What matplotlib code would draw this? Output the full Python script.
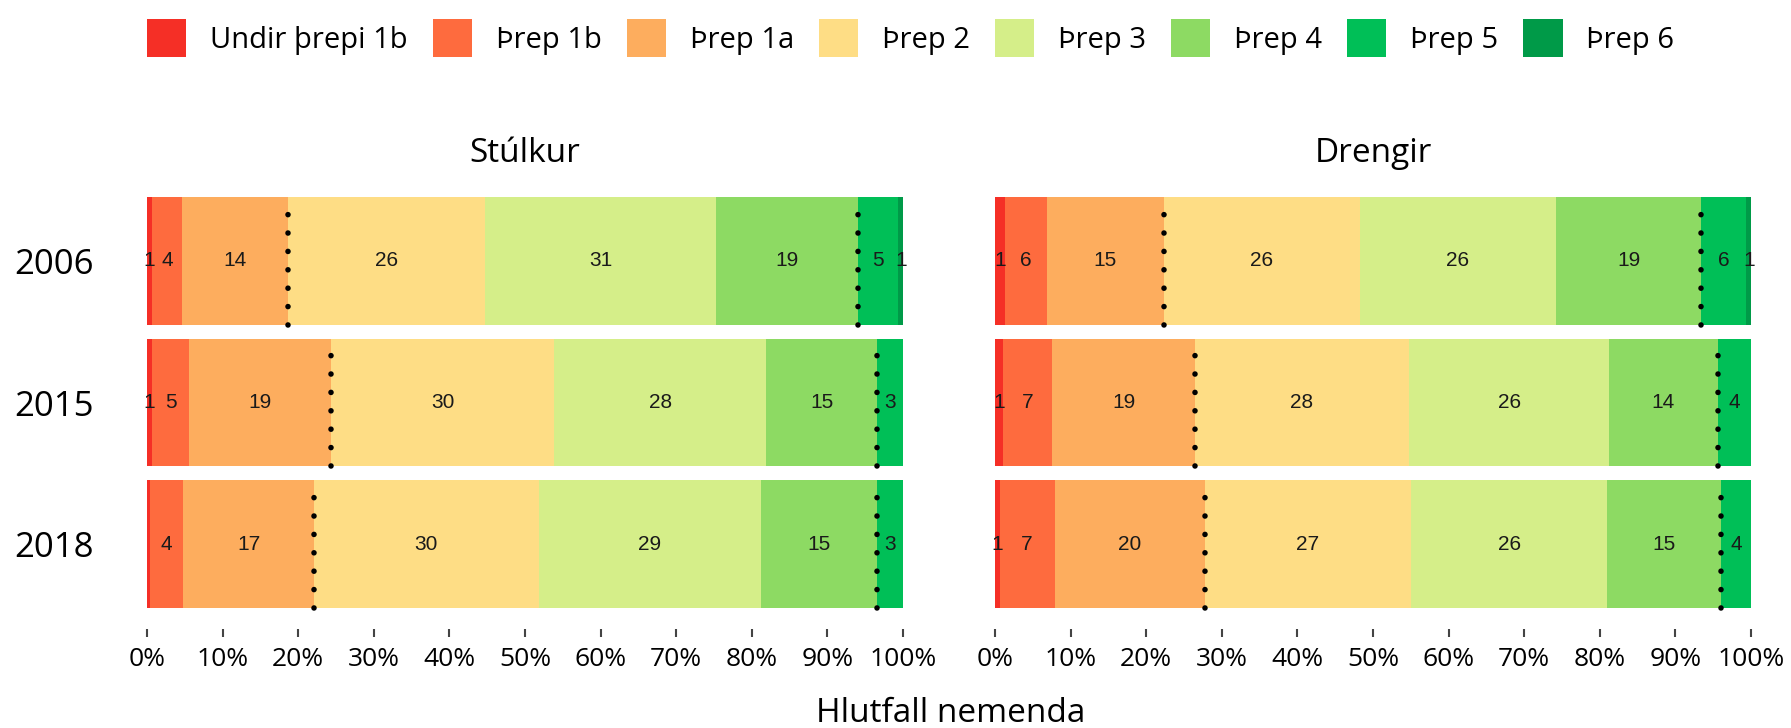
import numpy as np
import matplotlib
matplotlib.use('Agg')
import matplotlib.pyplot as plt
from matplotlib.patches import Patch

# levels and colours
levels = ['Undir þrepi 1b', 'Þrep 1b', 'Þrep 1a', 'Þrep 2', 'Þrep 3', 'Þrep 4', 'Þrep 5', 'Þrep 6']
colors = ['#F52F26', '#FE6B3E', '#FDAD5E', '#FEDD85', '#D5EE89', '#8DDA63', '#00BF57', '#009A48']
years = ['2006', '2015', '2018']
panels = ['Stúlkur', 'Drengir']

# percent of students per level, one row per year
girls = np.array([
    [0.7, 3.9, 14.1, 26.0, 30.6, 18.7, 5.4, 0.6],
    [0.7, 4.9, 18.7, 29.6, 28.0, 14.7, 3.4, 0.0],
    [0.4, 4.4, 17.3, 29.7, 29.4, 15.4, 3.4, 0.0],
])
boys = np.array([
    [1.3, 5.6, 15.4, 26.0, 25.9, 19.2, 6.0, 0.6],
    [1.0, 6.6, 18.8, 28.4, 26.4, 14.4, 4.4, 0.0],
    [0.6, 7.3, 19.9, 27.2, 26.0, 15.0, 4.0, 0.0],
])
xticks = np.arange(0, 101, 10)
# dotted lines after these levels (Þrep 1a and Þrep 4)
cut_after = [2, 5]

FONT = 'Open Sans'

fig = plt.figure(figsize=(17.91, 7.28), dpi=100)
ax_l = fig.add_axes([147/1791, 1-629/728, 756/1791, 453/728])
ax_r = fig.add_axes([995/1791, 1-629/728, 756/1791, 453/728])

for ax, data, title in zip([ax_l, ax_r], [girls, boys], panels):
    ypos = np.arange(len(years))
    left = np.zeros(len(years))
    for j in range(len(levels)):
        ax.barh(ypos, data[:, j], left=left, height=0.9, color=colors[j], linewidth=0)
        for i in range(len(years)):
            v = data[i, j]
            if round(v) > 0:
                ax.text(left[i] + v/2, ypos[i], '%d' % round(v), ha='center', va='center',
                        fontsize=15, family='Liberation Sans', color='#1a1a1a')
        left = left + data[:, j]
    cum = np.cumsum(data, axis=1)
    for i in range(len(years)):
        for k in cut_after:
            ax.plot([cum[i, k], cum[i, k]], [ypos[i]+0.45, ypos[i]-0.45], color='black',
                    lw=4.0, linestyle=(0, (0.01, 3.3)), dash_capstyle='round')
    ax.set_xlim(0, 100)
    ax.set_ylim(2.6, -0.6)
    ax.set_xticks(xticks)
    ax.set_xticklabels(['%d%%' % t for t in xticks], family=FONT, fontsize=19)
    ax.tick_params(axis='x', length=6, width=1.5, color='#444444', pad=7)
    if ax is ax_l:
        ax.set_yticks(ypos)
        ax.set_yticklabels(years, family=FONT, fontsize=25)
        ax.tick_params(axis='y', length=0, pad=38)
    else:
        ax.set_yticks([])
    for s in ax.spines.values():
        s.set_visible(False)
    ax.set_title(title, family=FONT, fontsize=24, pad=10)

fig.text(951/1791, 1-714/728, 'Hlutfall nemenda', ha='center', va='center', family=FONT, fontsize=24)

handles = [Patch(facecolor=c, edgecolor='none') for c in colors]
fig.legend(handles, levels, loc='center left', bbox_to_anchor=(147/1791, 1-38/728), ncol=8,
           frameon=False, prop={'family': FONT, 'size': 21}, handlelength=1.34, handleheight=1.64,
           handletextpad=0.82, columnspacing=0.86, borderaxespad=0, borderpad=0)

plt.savefig('out.png', dpi=100)
